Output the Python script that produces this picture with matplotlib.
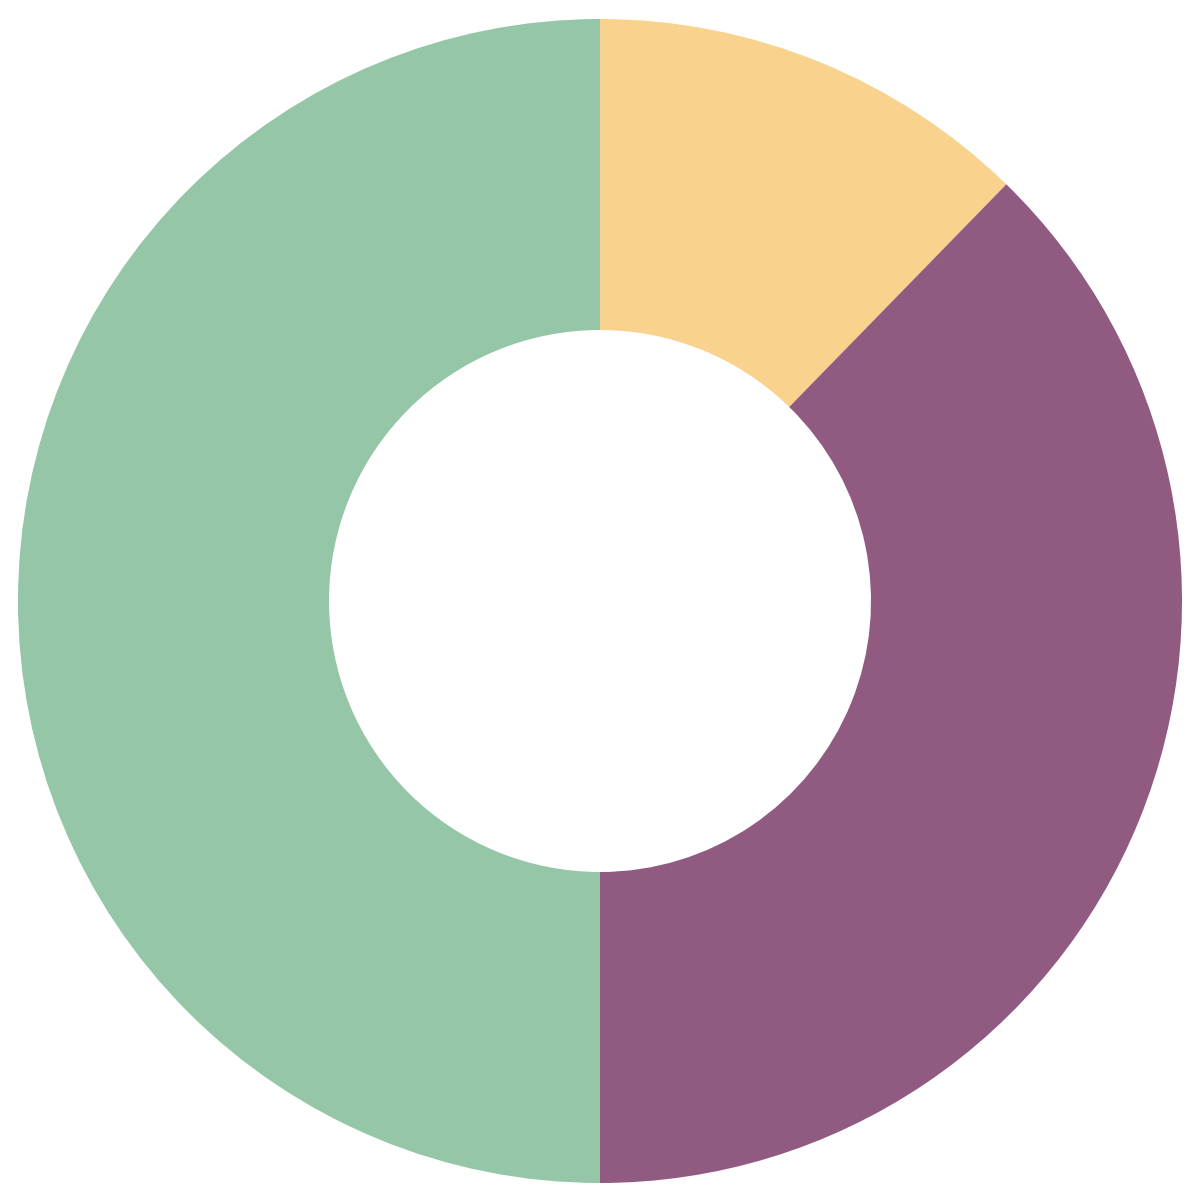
import matplotlib
matplotlib.use("Agg")
import matplotlib.pyplot as plt

labels = ["A", "B", "C"]
values = [12.3, 37.7, 50.0]
colors = ["#F9D38D", "#915A80", "#94C6A7"]

fig = plt.figure(figsize=(12, 11.97), dpi=100)
ax = fig.add_axes([0, 0, 1, 1])
R = 582.0
ax.pie(values, colors=colors, startangle=90, counterclock=False,
       radius=1.0, wedgeprops=dict(width=1 - 271 / R, linewidth=0))
ax.set_aspect("auto")
ax.set_xlim(-600 / R, 600 / R)
ax.set_ylim(-596 / R, 601 / R)
ax.axis("off")
fig.savefig("out.png", dpi=100)
